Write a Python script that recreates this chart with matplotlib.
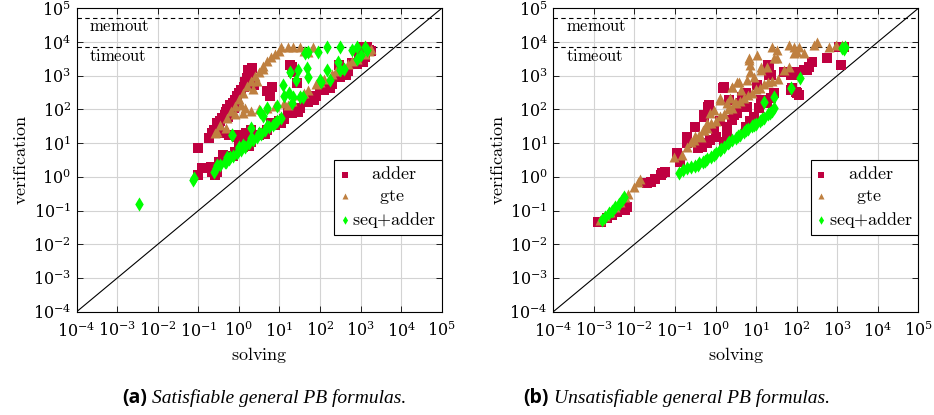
import numpy as np
import matplotlib
matplotlib.use("Agg")
import matplotlib.pyplot as plt
from matplotlib.ticker import LogLocator, NullLocator, LogFormatterSciNotation

plt.rcParams["mathtext.fontset"] = "cm"
plt.rcParams["font.family"] = ["DejaVu Serif"]

TIMEOUT = 7200
MEMOUT = 50000

# ---- (a) satisfiable ----
a_adder_x = [0.10, 0.10, 0.16, 0.18, 0.24, 0.29, 0.38, 0.47, 0.62, 0.81, 1.0, 1.3, 1.6, 1.7,
             0.56, 0.42, 0.26, 0.2, 0.3, 0.35, 0.45, 0.5, 0.7, 0.9, 1.1, 1.4, 1.9, 2.1,
             0.22, 0.33, 0.55, 0.75, 0.12, 0.22, 0.29, 1.1, 1.3,
             0.9, 1.2, 1.5, 2.0, 0.7, 2.3, 6.6, 20, 22, 27, 300, 5, 6, 18,
             900, 1100, 1400,
             0.32, 0.50, 0.79, 1.26, 2.0, 3.2, 5.0, 7.9, 13, 20, 32, 50, 79, 126, 200, 316,
             500, 794, 1260, 1780, 0.40, 1.0, 2.5, 6.3, 16, 40, 100, 251, 631, 1585,
             4.0, 10, 25, 63, 158, 398, 1000,
             0.71, 1.78, 4.5, 11.2, 28, 71, 178, 447, 1120]
a_adder_y = [7.1, 1.1, 1.8, 14, 25, 39, 55, 85, 135, 190, 300, 470, 830, 1480,
             17, 20, 1.1, 2.0, 30, 45, 70, 100, 160, 250, 380, 650, 1200, 1700,
             20, 25, 60, 110, 1.8, 1.4, 1.4, 12, 9.8,
             15, 17, 20, 25, 18, 520, 470, 1860, 1300, 590, 2100, 350, 250, 2100,
             4500, 7000, 7200,
             2.8, 4.0, 5.6, 7.9, 11, 17, 25, 35, 52, 76, 112, 166, 250, 380, 575, 890,
             1400, 2240, 3550, 5250, 4.4, 8.9, 18, 40, 83, 182, 407, 933, 2340, 5890,
             20, 44, 93, 204, 468, 1120, 2820,
             4.3, 8.5, 18.6, 40, 84, 190, 437, 1050, 2600]

a_gte_x = [0.26, 0.35, 0.5, 0.63, 0.79, 1.0, 1.26, 1.58, 2.0, 2.5, 3.2, 4.0, 5.0, 6.3, 7.9,
           10, 11, 16, 22, 32, 40, 68, 50, 4, 2.8, 2.2, 0.29, 0.47, 1.1, 1.45,
           0.79, 1.26, 2.0, 3.2, 5.0, 7.9, 13, 20, 32, 50, 79, 126, 200, 316, 500, 794,
           1260, 1780, 16, 40, 100, 251, 631, 1585]
a_gte_y = [19.5, 35, 56, 89, 126, 200, 316, 500, 710, 1000, 1260, 2000, 2800, 3550, 4470,
           5600, 7200, 7200, 7200, 7200, 5600, 7200, 5000, 1600, 710, 400, 22, 28, 135, 107,
           71, 79, 89, 100, 112, 126, 150, 178, 263, 380, 562, 794, 1120, 1585, 2240, 3160,
           4470, 6030, 140, 316, 661, 1350, 2690, 5370]

a_seq_x = [0.0035, 0.072, 0.076, 0.24, 0.29, 0.47, 0.62, 1.0, 0.68,
           0.28, 0.35, 0.45, 0.56, 0.71, 0.89, 1.12, 1.41, 1.78, 2.24, 2.82, 3.55, 4.47,
           5.62, 7.08, 8.91, 11.2, 1.26, 2.0, 3.16, 5.0, 7.94, 0.5, 1.0,
           0.66, 2.0, 3.3, 4.8, 4.0, 12, 18, 26, 29, 32, 22, 39, 17, 43, 51, 91, 145, 310,
           600, 800, 1260, 47, 51, 100, 107, 145, 280, 310, 178, 12.6, 20, 8.9, 400, 794,
           1000, 1410]
a_seq_y = [0.155, 0.81, 0.91, 1.4, 2.2, 2.8, 4.0, 7.9, 17,
           1.8, 2.2, 2.8, 3.5, 4.2, 5.2, 6.3, 7.9, 10, 12, 15, 19, 24,
           30, 35, 45, 54, 8.9, 14, 20, 32, 40, 4.0, 7.1,
           17, 28, 85, 107, 63, 525, 1320, 740, 1480, 240, 240, 240, 300, 4570, 5130, 5130,
           7200, 7200, 5750, 7200, 7200, 1660, 930, 740, 660, 1480, 2630, 1480, 740, 250,
           160, 126, 1580, 3160, 4000, 5620]

# ---- (b) unsatisfiable ----
b_adder_x = [0.0013, 0.0015, 0.0021, 0.0028, 0.0037, 0.0049, 0.0065, 0.0059,
             0.020, 0.025, 0.032, 0.044, 0.058, 0.048,
             0.11, 0.135, 0.2, 0.32, 0.38, 0.51, 0.66, 0.47, 0.62, 0.74, 1.0, 1.55, 2.1,
             1.95, 2.6, 3.4, 4.2, 4.6, 5.5, 7.2, 8.7, 11.7, 12.9, 19, 20, 23, 28,
             1.6, 0.68, 0.51, 0.2, 21, 21, 10.7, 5.5, 6.0, 15.5, 23, 49, 71, 95, 71, 95,
             115, 151, 200, 245, 575, 0.91, 1.3, 2.8, 1.95, 1.6,
             1230, 1120, 1480, 95, 76, 105, 182, 235]
b_adder_y = [0.047, 0.047, 0.059, 0.074, 0.093, 0.11, 0.126, 0.105,
             0.65, 0.71, 0.89, 1.12, 1.41, 1.26,
             5.0, 2.8, 9.8, 31, 7.1, 60, 120, 7.9, 9.8, 12.3, 15.5, 430, 190,
             31, 49, 76, 151, 240, 31, 44, 60, 107, 190, 151, 2100, 1050, 300,
             470, 135, 68, 15.5, 2100, 1050, 525, 300, 120, 151, 214, 1320, 1050, 1050, 380,
             340, 270, 1480, 1860, 2630, 3310, 28, 44, 68, 17, 11,
             2100, 7200, 7200, 1320, 425, 300, 1480, 2600]

b_gte_x = [0.0014, 0.0019, 0.0025, 0.0034, 0.0045, 0.0059, 0.0071, 0.0095, 0.0126, 0.0138,
           0.093, 0.15, 0.2, 0.29, 0.43, 0.51, 0.62, 0.74, 0.91, 1.3, 1.95, 2.6, 3.4, 4.2,
           6.0, 6.6, 7.2, 8.7, 10.7, 12.9, 19, 28, 33, 49, 65, 85, 115, 151, 270, 324, 631,
           912, 1350, 85, 105,
           0.25, 0.4, 0.63, 1.0, 1.6, 2.5, 4.0, 6.3, 10, 16, 25, 35, 0.32, 0.5, 0.79, 1.26,
           2.0, 3.2, 5.0, 7.9, 12.6, 20,
           6.6, 7.2, 33, 25, 12.9, 65, 2.6, 3.7, 1.3, 2.3, 3.1]
b_gte_y = [0.052, 0.069, 0.091, 0.13, 0.18, 0.26, 0.32, 0.51, 0.71, 0.85,
           4.0, 4.5, 7.9, 12.3, 15.5, 24.5, 39, 76, 95, 190, 151, 470, 660, 380,
           740, 3310, 1320, 933, 4070, 1480, 1860, 3310, 5750, 1480, 8130, 7200, 7200, 4570,
           8130, 10200, 7200, 8130, 8130, 4570, 5130,
           11, 18, 28, 45, 71, 112, 178, 263, 400, 562, 708, 794, 16, 25, 40, 63,
           100, 158, 224, 316, 447, 631,
           2950, 2100, 3310, 7200, 1860, 1860, 470, 660, 214, 214, 170]

b_seq_x = [0.0016, 0.0019, 0.0023, 0.0028, 0.0034, 0.0041, 0.0049, 0.0054,
           0.126, 0.158, 0.2, 0.25, 0.32, 0.4, 0.5, 0.63, 0.79, 1.0, 1.26, 1.58, 2.0, 2.5,
           3.2, 4.0, 5.0, 6.3, 7.9, 10, 12.6, 15.8, 20, 25, 28,
           0.36, 0.56, 0.9, 1.4, 2.2, 3.6, 5.6, 8.9, 14, 22,
           15.5, 28, 71, 123, 1350, 1550, 1450]
b_seq_y = [0.052, 0.063, 0.083, 0.1, 0.126, 0.16, 0.2, 0.26,
           1.26, 1.58, 1.78, 1.9, 2.1, 2.5, 2.8, 3.3, 4.0, 5.2, 6.3, 7.9, 10, 12,
           14.5, 17.8, 21, 26, 32, 38, 46, 56, 71, 89, 107,
           2.3, 3.0, 4.6, 6.8, 11, 16, 24, 35, 52, 80,
           170, 240, 425, 830, 6460, 7200, 6000]

series_labels = ["adder", "gte", "seq+adder"]
# legend labels are centred in the box as in pgfplots
legend_text = [r"$\hspace{1.2}\mathrm{adder}$", r"$\hspace{1.75}\mathrm{gte}$",
               r"$\mathrm{seq{+}adder}$"]

panels = [
    (a_adder_x, a_adder_y, a_gte_x, a_gte_y, a_seq_x, a_seq_y),
    (b_adder_x, b_adder_y, b_gte_x, b_gte_y, b_seq_x, b_seq_y),
]

fig = plt.figure(figsize=(9.34, 4.15), dpi=100)
ax_a = fig.add_axes([0.0821, 0.2489, 0.3908, 0.7311])
ax_b = fig.add_axes([0.5924, 0.2489, 0.3908, 0.7311])

for ax, (ax_x, ax_y, gx, gy, sx, sy) in zip([ax_a, ax_b], panels):
    ax.set_xscale("log")
    ax.set_yscale("log")
    ax.set_xlim(1e-4, 1e5)
    ax.set_ylim(1e-4, 1e5)
    ax.grid(True, which="major", color="#d3d3d3", linewidth=0.8)
    ax.set_axisbelow(True)
    ax.plot([1e-4, 1e5], [1e-4, 1e5], color="black", linewidth=0.8, zorder=2)
    ax.axhline(MEMOUT, color="black", linestyle=(0, (4, 3)), linewidth=0.8, zorder=2)
    ax.axhline(TIMEOUT, color="black", linestyle=(0, (4, 3)), linewidth=0.8, zorder=2)
    ax.text(2e-4, MEMOUT / 1.75, r"$\mathrm{memout}$", fontsize=12, va="center", ha="left")
    ax.text(2e-4, TIMEOUT / 1.95, r"$\mathrm{timeout}$", fontsize=12, va="center", ha="left")

    ax.scatter(ax_x, ax_y, marker="s", s=52, color="#BF0040", linewidths=0,
               label=series_labels[0], zorder=3)
    ax.scatter(gx, gy, marker="^", s=52, color="#BF8040", linewidths=0,
               label=series_labels[1], zorder=4)
    ax.scatter(sx, sy, marker="d", s=52, color="#00FF00", linewidths=0,
               label=series_labels[2], zorder=5)

    for axis in (ax.xaxis, ax.yaxis):
        axis.set_major_locator(LogLocator(base=10, numticks=20))
        axis.set_minor_locator(NullLocator())
        axis.set_major_formatter(LogFormatterSciNotation(base=10))
    ax.tick_params(direction="in", top=True, right=True, length=4, width=0.6,
                   labelsize=11.5, pad=4)
    ax.tick_params(axis="x", pad=7)
    for sp in ax.spines.values():
        sp.set_linewidth(0.8)

    ax.set_xlabel(r"$\mathrm{solving}$", fontsize=13, labelpad=3)
    ax.set_ylabel(r"$\mathrm{verification}$", fontsize=13, labelpad=2)

    leg = ax.legend(loc="upper right", bbox_to_anchor=(1.0, 0.5), borderaxespad=0,
                    fancybox=False, edgecolor="black", framealpha=1, fontsize=13,
                    handletextpad=0.1, handlelength=0.6, markerscale=0.6,
                    borderpad=0.3, labelspacing=0.2)
    leg.get_frame().set_linewidth(0.8)
    for t, s in zip(leg.get_texts(), legend_text):
        t.set_text(s)

# captions
fig.text(0.1306, 0.041, "(a)", fontsize=14, fontweight="bold",
         family=["Open Sans"], va="center", ha="left")
fig.text(0.163, 0.041, "Satisfiable general PB formulas.", fontsize=14,
         style="italic", family=["Liberation Serif"], va="center", ha="left")
fig.text(0.560, 0.041, "(b)", fontsize=14, fontweight="bold",
         family=["Open Sans"], va="center", ha="left")
fig.text(0.593, 0.041, "Unsatisfiable general PB formulas.", fontsize=14,
         style="italic", family=["Liberation Serif"], va="center", ha="left")

fig.savefig("out.png", dpi=100)
